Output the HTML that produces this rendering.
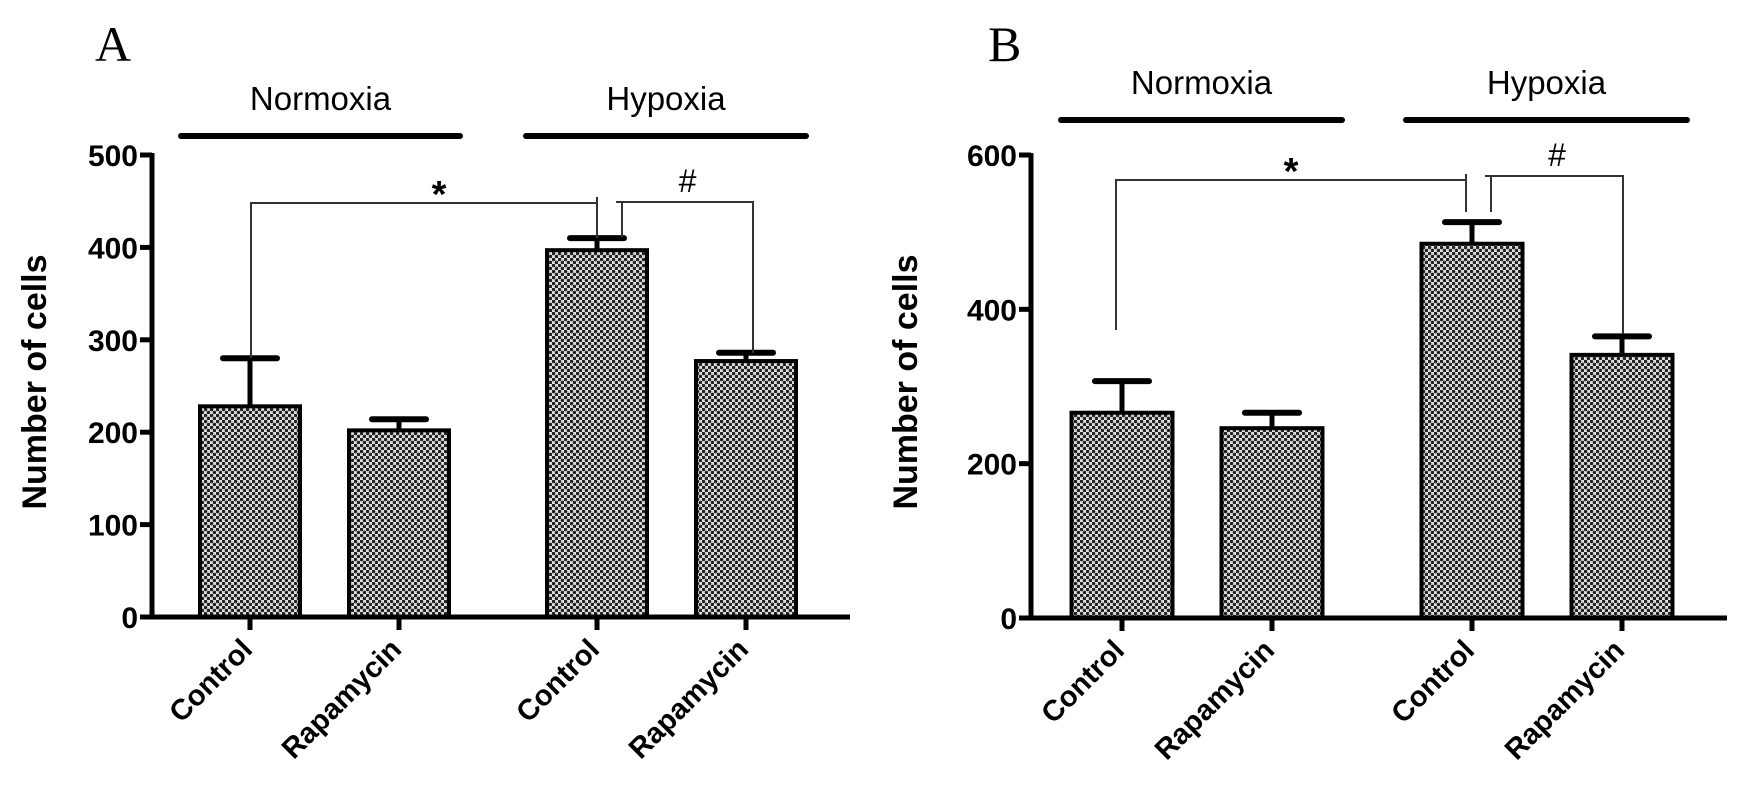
<!DOCTYPE html>
<html><head><meta charset="utf-8"><style>
html,body{margin:0;padding:0;background:#fff;}
svg{display:block;font-family:"Liberation Sans",Arial,sans-serif;}
</style></head><body>
<svg id="fig" width="1754" height="787" viewBox="0 0 1754 787">
<defs>
<pattern id="dots" width="6" height="6" patternUnits="userSpaceOnUse">
<rect width="6" height="6" fill="#e0e0e0"/>
<circle cx="1.5" cy="1.5" r="1.8" fill="#222"/>
<circle cx="4.5" cy="4.5" r="1.8" fill="#222"/>
</pattern>
</defs>
</svg>
<script>
const categories = ["Control","Rapamycin","Control","Rapamycin"];
const valuesA = [228, 202, 397, 277];
const errorsA = [52, 12, 13, 9];
const ticksA = [0,100,200,300,400,500];
const valuesB = [266, 246, 485, 341];
const errorsB = [41, 20, 28, 24];
const ticksB = [0,200,400,600];

const NS="http://www.w3.org/2000/svg";
const svg=document.getElementById('fig');
function mk(tag,attrs,parent,text){const e=document.createElementNS(NS,tag);for(const k in attrs)e.setAttribute(k,attrs[k]);if(text!==undefined)e.textContent=text;(parent||svg).appendChild(e);return e;}

function panel(cfg,values,errors,ticks){
  const g=mk('g',{});
  
  
  const ymax=ticks[ticks.length-1];
  const y=v=>cfg.y0-(v/ymax)*(cfg.y0-cfg.yTop);
  const xc=i=>cfg.centers[i];
  const L=mk('text',{x:cfg.letterX,y:61,'font-family':'"Liberation Serif",serif','font-size':50},g,cfg.letter);
  
  
  cfg.groups.forEach(gr=>{
    const ln=mk('line',{x1:gr.x1,x2:gr.x2,y1:cfg.groupY,y2:cfg.groupY,stroke:'#000','stroke-width':6,'stroke-linecap':'round'},g);
    
    
    const t=mk('text',{x:(gr.x1+gr.x2)/2,y:cfg.groupY-26,'text-anchor':'middle','font-size':33},g,gr.label);
    
    
  });
  values.forEach((v,i)=>{
    const bw=cfg.barW;
    const top=y(v), eTop=y(v+errors[i]);
    const er=mk('line',{x1:xc(i),x2:xc(i),y1:top,y2:eTop,stroke:'#000','stroke-width':5},g);
    
    
    const cap=mk('line',{x1:xc(i)-27,x2:xc(i)+27,y1:eTop,y2:eTop,stroke:'#000','stroke-width':6,'stroke-linecap':'round'},g);
    
    
    const r=mk('rect',{x:xc(i)-bw/2,y:top,width:bw,height:cfg.y0-top,fill:'url(#dots)',stroke:'#000','stroke-width':4},g);
    
    
  });
  const ya=mk('line',{x1:cfg.axX,x2:cfg.axX,y1:cfg.yTop-2,y2:cfg.y0+2,stroke:'#000','stroke-width':5},g);
  
  
  const xa=mk('line',{x1:cfg.axX-12,x2:cfg.axEnd,y1:cfg.y0,y2:cfg.y0,stroke:'#000','stroke-width':5},g);
  
  
  ticks.forEach(t=>{
    const tl=mk('line',{x1:cfg.axX-12,x2:cfg.axX,y1:y(t),y2:y(t),stroke:'#000','stroke-width':5},g);
    
    
    const tx=mk('text',{x:cfg.axX-14,y:y(t)+11,'text-anchor':'end','font-size':30,'font-weight':'bold'},g,String(t));
    
    
  });
  categories.forEach((c,i)=>{
    const tk=mk('line',{x1:xc(i),x2:xc(i),y1:cfg.y0,y2:cfg.y0+13,stroke:'#000','stroke-width':5},g);
    
    
    const ax=xc(i)+4, ay=cfg.y0+34;
    const tx=mk('text',{x:ax,y:ay,'text-anchor':'end','font-size':29,'font-weight':'bold',transform:`rotate(-45 ${ax} ${ay})`},g,c);
    
    
  });
  const yt=mk('text',{x:cfg.titleX,y:382,'text-anchor':'middle','font-size':34,'font-weight':'bold',transform:`rotate(-90 ${cfg.titleX} 382)`},g,'Number of cells');
  
  
  const s=cfg.star, h=cfg.hash;
  const p1=mk('path',{d:`M${s.x1},${s.yl} V${s.y} H${s.x2} M${s.x2},${s.y-6} V${s.yr}`,fill:'none',stroke:'#333','stroke-width':2},g);
  
  
  const st=mk('text',{x:(s.x1+s.x2)/2+(cfg.letter==='A'?15:0),y:s.y+4,'text-anchor':'middle','font-size':38,'font-weight':'bold'},g,'*');
  
  
  const p2=mk('path',{d:`M${h.x1-6},${h.y} H${h.x2} V${h.yr} M${h.x1},${h.y} V${h.yl}`,fill:'none',stroke:'#333','stroke-width':2},g);
  
  
  const ht=mk('text',{x:(h.x1+h.x2)/2,y:h.y-10,'text-anchor':'middle','font-size':32},g,'#');
  
  
}

panel({name:'panel-a',letter:'A',letterX:95,axX:152,axEnd:850,y0:617,yTop:155,barW:100,
  centers:[250,399,597,746],titleX:46,groupY:136,
  groups:[{x1:181,x2:460,label:'Normoxia'},{x1:526,x2:806,label:'Hypoxia'}],
  star:{x1:251,x2:597,y:203,yl:358,yr:238},
  hash:{x1:622,x2:753,y:202,yl:237,yr:353}},valuesA,errorsA,ticksA);

panel({name:'panel-b',letter:'B',letterX:988,axX:1031,axEnd:1727,y0:618,yTop:155,barW:101,
  centers:[1122,1272,1472,1622],titleX:917,groupY:120,
  groups:[{x1:1061,x2:1342,label:'Normoxia'},{x1:1406,x2:1687,label:'Hypoxia'}],
  star:{x1:1116,x2:1466,y:180,yl:330,yr:212},
  hash:{x1:1491,x2:1623,y:176,yl:212,yr:334}},valuesB,errorsB,ticksB);
</script>
</body></html>
